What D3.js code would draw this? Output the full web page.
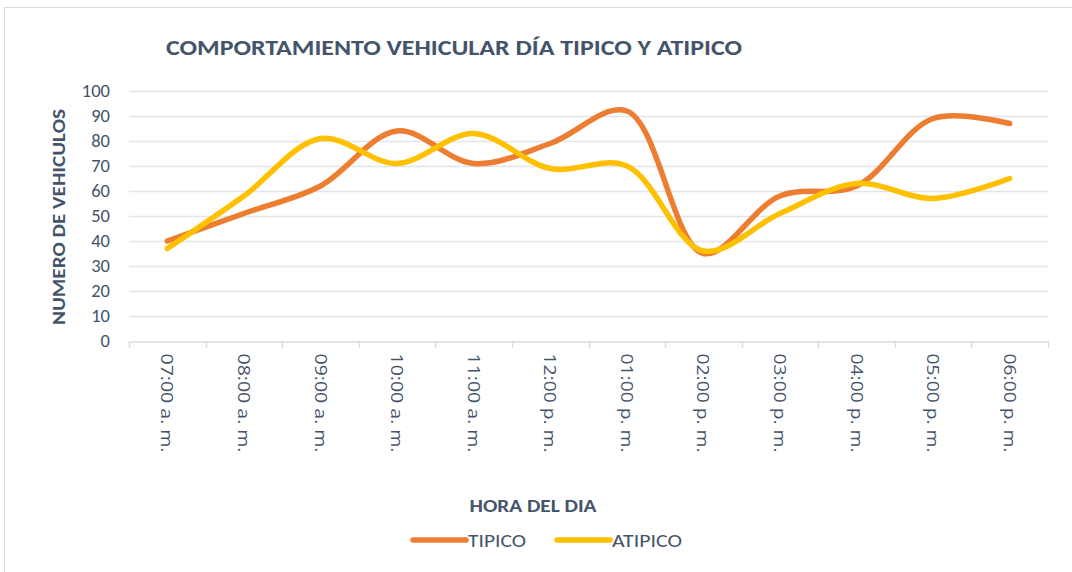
<!DOCTYPE html>
<html>
<head>
<meta charset="utf-8">
<script src="https://cdn.jsdelivr.net/npm/d3@7"></script>
<style>
  body { margin: 0; background: #fff; }
  svg text { font-family: Carlito, "Open Sans", "Liberation Sans", sans-serif; fill: #44546A; }
</style>
</head>
<body>
<svg id="chart" width="1072" height="572"></svg>
<script>
// Daten
const horas = ['07:00 a. m.', '08:00 a. m.', '09:00 a. m.', '10:00 a. m.', '11:00 a. m.', '12:00 p. m.',
               '01:00 p. m.', '02:00 p. m.', '03:00 p. m.', '04:00 p. m.', '05:00 p. m.', '06:00 p. m.'];
const tipico  = [40, 51, 62, 84, 71, 79, 92, 35, 58, 62, 89, 87];
const atipico = [37, 58, 81, 71, 83, 69, 70, 36, 51, 63, 57, 65];
const yTicks  = [0, 10, 20, 30, 40, 50, 60, 70, 80, 90, 100];

const series = [
  { name: 'TIPICO',  values: tipico,  color: '#ED7D31', w: 58 },
  { name: 'ATIPICO', values: atipico, color: '#FFC000', w: 70 },
];

const svg = d3.select('#chart');
const plot = { left: 129, right: 1048, top: 91, bottom: 341 };

// Rahmen
svg.append('rect')
  .attr('x', 4.5).attr('y', 7.5).attr('width', 1080).attr('height', 580)
  .attr('fill', 'none').attr('stroke', '#D9D9D9').attr('stroke-width', 1);

const x = d3.scaleBand().domain(horas).range([plot.left, plot.right]);
const y = d3.scaleLinear().domain([0, 100]).range([plot.bottom, plot.top]);

// Gitter
svg.append('g').selectAll('line')
  .data(yTicks.filter(d => d > 0))
  .join('line')
  .attr('x1', plot.left).attr('x2', plot.right)
  .attr('y1', d => Math.round(y(d)) + 0.5).attr('y2', d => Math.round(y(d)) + 0.5)
  .attr('stroke', '#E1E5EB').attr('stroke-width', 1.5);

// Y-Achse
const yAxis = svg.append('g')
  .attr('transform', `translate(${plot.left - 19},0)`)
  .call(d3.axisLeft(y).tickValues(yTicks).tickSize(0).tickPadding(0));
yAxis.select('.domain').remove();
yAxis.selectAll('text')
  .attr('font-size', 18.5).attr('fill', '#44546A')
  .style('font-family', 'Carlito, "Open Sans", sans-serif');

// X-Achse
const xAxis = svg.append('g')
  .attr('transform', `translate(0,${Math.round(plot.bottom) + 0.5})`)
  .call(d3.axisBottom(x).tickSize(0));
xAxis.select('.domain').attr('stroke', '#D9DDE3').attr('stroke-width', 1.5);
xAxis.selectAll('text')
  .attr('font-size', 17).attr('fill', '#44546A')
  .attr('transform', 'rotate(90)')
  .attr('text-anchor', 'start')
  .attr('x', 12).attr('y', 0).attr('dy', '0.35em')
  .attr('textLength', 99).attr('lengthAdjust', 'spacingAndGlyphs')
  .style('font-family', '"Open Sans", "Liberation Sans", sans-serif');

// Teilstriche an den Kategoriegrenzen
svg.append('g').selectAll('line')
  .data(d3.range(horas.length + 1))
  .join('line')
  .attr('x1', i => Math.round(plot.left + i * x.step()) + 0.5)
  .attr('x2', i => Math.round(plot.left + i * x.step()) + 0.5)
  .attr('y1', plot.bottom).attr('y2', plot.bottom + 7)
  .attr('stroke', '#D9DDE3').attr('stroke-width', 1.5);

// Linien
const line = d3.line()
  .x((d, i) => x(horas[i]) + x.bandwidth() / 2)
  .y(d => y(d))
  .curve(d3.curveCatmullRom.alpha(0.5));

svg.append('g').selectAll('path')
  .data(series)
  .join('path')
  .attr('d', d => line(d.values))
  .attr('fill', 'none')
  .attr('stroke', d => d.color)
  .attr('stroke-width', 5.5)
  .attr('stroke-linecap', 'round')
  .attr('stroke-linejoin', 'round');

// Titel
svg.append('text')
  .attr('x', 166).attr('y', 55)
  .attr('font-size', 22).attr('font-weight', 'bold')
  .attr('textLength', 576).attr('lengthAdjust', 'spacingAndGlyphs')
  .text('COMPORTAMIENTO VEHICULAR DÍA TIPICO Y ATIPICO');

// Achsentitel
svg.append('text')
  .attr('transform', 'translate(65,217) rotate(-90)')
  .attr('text-anchor', 'middle')
  .attr('font-size', 18).attr('font-weight', 'bold')
  .attr('textLength', 216).attr('lengthAdjust', 'spacingAndGlyphs')
  .text('NUMERO DE VEHICULOS');

svg.append('text')
  .attr('x', 533).attr('y', 512)
  .attr('text-anchor', 'middle')
  .attr('font-size', 18).attr('font-weight', 'bold')
  .attr('textLength', 127).attr('lengthAdjust', 'spacingAndGlyphs')
  .text('HORA DEL DIA');

// Legende
const legend = svg.append('g').selectAll('g')
  .data(series)
  .join('g')
  .attr('transform', (d, i) => `translate(${413 + i * 144},540)`);
legend.append('line')
  .attr('x1', 0).attr('x2', 53).attr('y1', 0).attr('y2', 0)
  .attr('stroke', d => d.color).attr('stroke-width', 5.5).attr('stroke-linecap', 'round');
legend.append('text')
  .attr('x', 55).attr('y', 0).attr('dy', '0.35em')
  .attr('font-size', 19)
  .attr('textLength', d => d.w).attr('lengthAdjust', 'spacingAndGlyphs')
  .text(d => d.name);
</script>
</body>
</html>
